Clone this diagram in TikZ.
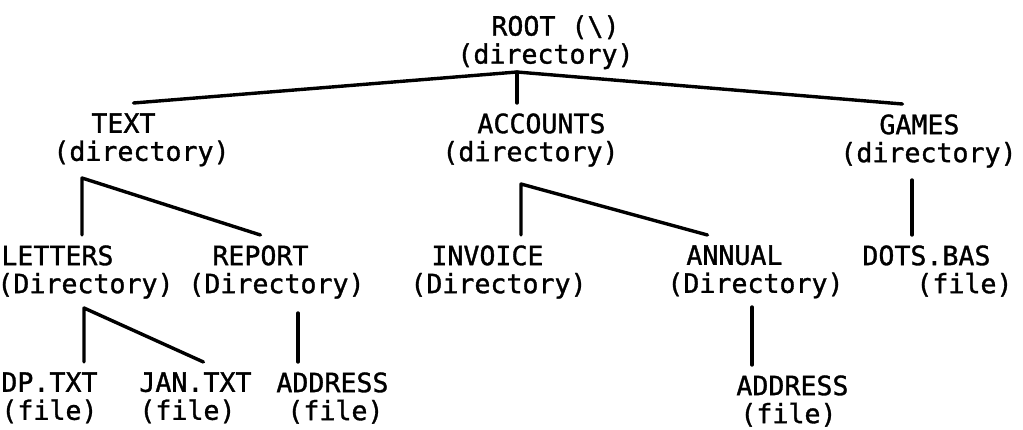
\documentclass[tikz,border=0pt]{standalone}
\usepackage{fontspec}
\setmonofont[FakeBold=1.2]{DejaVu Sans Mono}
\begin{document}
\begin{tikzpicture}[x=0.5pt,y=-0.5pt,
    entry/.style={anchor=north west, inner xsep=0pt, inner ysep=5pt, align=left,
        font=\ttfamily\fontsize{13.3}{14}\selectfont},
    link/.style={line width=1.7pt, line cap=round, line join=round}]
\useasboundingbox[fill=white] (0,0) rectangle (1023,429);

% top level
\node[entry] (root) at (457,5) {\hspace*{17pt}ROOT (\textbackslash)\\(directory)};

% second level
\node[entry] (text) at (53,103) {\hspace*{19pt}TEXT\\(directory)};
\node[entry] (accounts) at (442,103) {\hspace*{17.5pt}ACCOUNTS\\(directory)};
\node[entry] (games) at (840,104) {\hspace*{19.5pt}GAMES\\(directory)};

% third level
\node[entry] (letters) at (-3,235) {\hspace*{2pt}LETTERS\\(Directory)};
\node[entry] (report) at (188,235) {\hspace*{12pt}REPORT\\(Directory)};
\node[entry] (invoice) at (410,235) {\hspace*{10.5pt}INVOICE\\(Directory)};
\node[entry] (annual) at (667,235) {\hspace*{9.5pt}ANNUAL\\(Directory)};
\node[entry] (dots) at (862,235) {DOTS.BAS\\\hspace*{27pt}(file)};

% files
\node[entry] (dp) at (1,362) {DP.TXT\\(file)};
\node[entry] (jan) at (139,362) {JAN.TXT\\(file)};
\node[entry] (addr1) at (276,362) {ADDRESS\\\hspace*{5.5pt}(file)};
\node[entry] (addr2) at (736,365) {ADDRESS\\\hspace*{2pt}(file)};

% junctions
\coordinate (jroot) at (517,72);
\coordinate (jtext) at (82,178);
\coordinate (jacc) at (521,184);
\coordinate (jgames) at (912,180);
\coordinate (jlet) at (84,308);
\coordinate (jrep) at (298,313);
\coordinate (jann) at (752,307);

\draw[link] ([xshift=-4pt]text.north) -- (jroot) -- ([xshift=-13pt]games.north);
\draw[link] (jroot) -- (jroot |- accounts.north);

\draw[link] (jtext |- letters.north) -- (jtext) -- ([xshift=-8pt]report.north);
\draw[link] (jacc |- invoice.north) -- (jacc) -- ([xshift=-24pt]annual.north);
\draw[link] (jgames) -- (jgames |- dots.north);

\draw[link] (jlet |- dp.north) -- (jlet) -- ([xshift=4pt]jan.north);
\draw[link] (jrep) -- (jrep |- addr1.north);
\draw[link] (jann) -- (jann |- addr2.north);
\end{tikzpicture}
\end{document}
